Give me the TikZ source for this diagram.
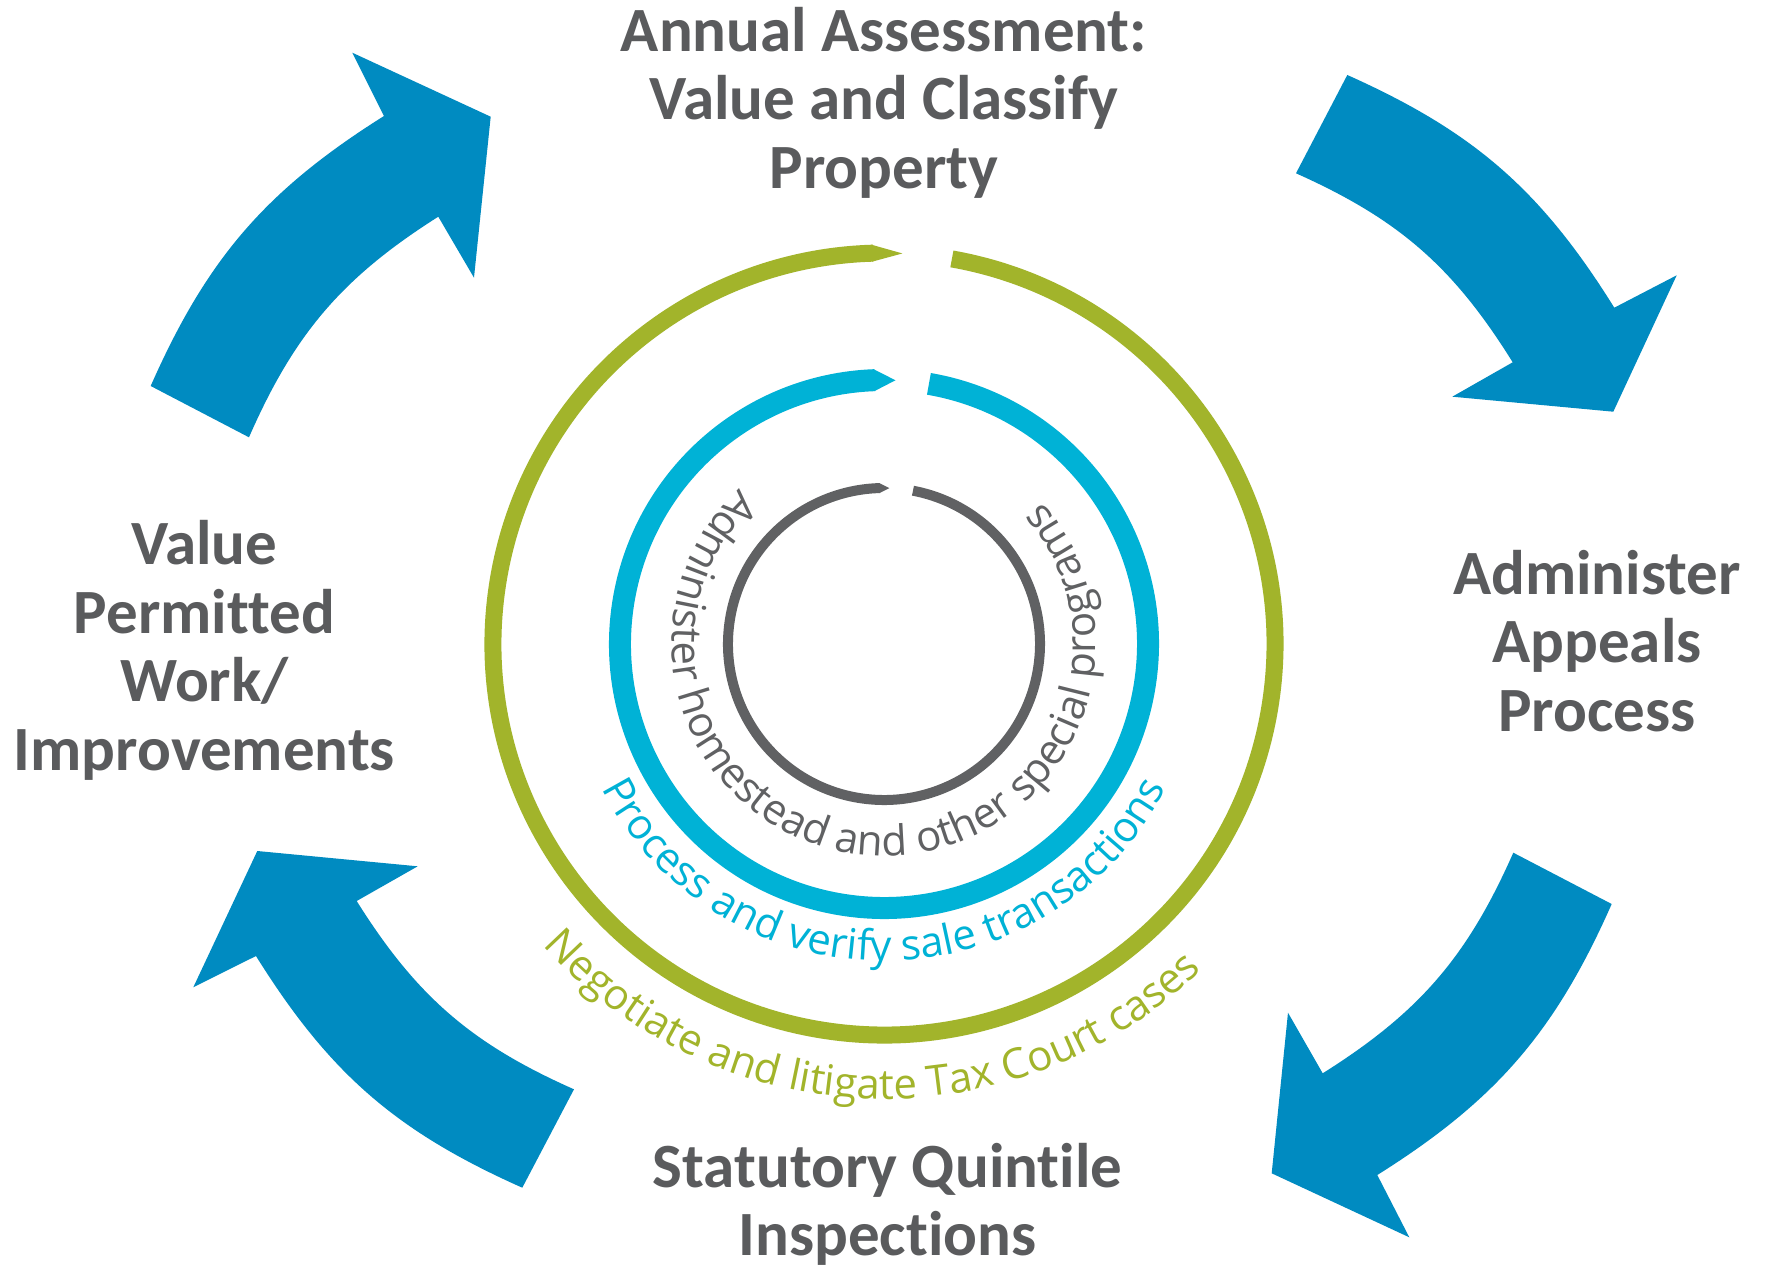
\documentclass[tikz,border=0pt]{standalone}
\usepackage{fontspec}
\usetikzlibrary{decorations.text,calc}
\newfontfamily\labelfont{Carlito}[Ligatures=NoCommon]
\newfontfamily\ringfont{Open Sans}
\definecolor{arrowblue}{HTML}{008BC1}
\definecolor{ringcyan}{HTML}{00B2D6}
\definecolor{ringgreen}{HTML}{A2B42B}
\definecolor{ringgray}{HTML}{606163}
\definecolor{labelgray}{HTML}{5A5B5D}
\newcommand{\ringtextfont}{\ringfont\fontsize{42}{48}\selectfont}
\tikzset{
  cyclearrow/.style={fill=arrowblue, draw=none},
  steplabel/.style={font=\labelfont\bfseries\fontsize{63}{68.5}\selectfont,
    text=labelgray, align=center, anchor=base, inner sep=0pt},
}
\begin{document}
\begin{tikzpicture}[x=1pt,y=1pt]
\useasboundingbox (-884,-623) rectangle (882,644);
\fill[white] (-884,-623) rectangle (882,644);

% ---- four curved cycle arrows (clockwise) ----
\fill[cyclearrow] (-733.3,258) to[bend left=17] (-500,528) -- (-531.7,591.3)
  -- (-393.3,527.3) -- (-410,366.3) -- (-445.7,427.3)
  to[bend right=17] (-635,206.7) -- cycle;
\fill[cyclearrow] (463.3,569) to[bend left=17] (730.3,336.3) -- (792.7,368.7)
  -- (729.3,232.3) -- (568.3,247.3) -- (628.7,281.7)
  to[bend right=17] (412,470.7) -- cycle;
\fill[cyclearrow] (727.7,-260) to[bend left=17] (493.3,-531) -- (525.3,-593.3)
  -- (387.7,-529.3) -- (404,-368.7) -- (438.7,-429.3)
  to[bend right=17] (629.3,-208.7) -- cycle;
\fill[cyclearrow] (-361.7,-543.7) to[bend left=17] (-628,-312) -- (-690.7,-343.3)
  -- (-626.7,-207) -- (-466.3,-222.3) -- (-527.3,-257)
  to[bend right=17] (-310,-445.3) -- cycle;

% ---- concentric rings with a pointed end at the top ----
\draw[ringgreen, line width=17] (80:391) arc[start angle=80, end angle=-268.4, radius=391];
\fill[ringgreen] (91.8:382.5) -- (87.3:391) -- (91.8:399.5) -- cycle;
\draw[ringcyan, line width=22] (80.2:264) arc[start angle=80.2, end angle=-268, radius=264];
\fill[ringcyan] (92.2:253) -- (87.5:264) -- (92.2:275) -- cycle;
\draw[ringgray, line width=10] (79.3:156) arc[start angle=79.3, end angle=-268.5, radius=156];
\fill[ringgray] (91.7:151) -- (88:156) -- (91.7:161) -- cycle;

% ---- texts along the rings ----
\path[decorate, decoration={text along path, text align=center, text color=ringgray,
    text={|\ringtextfont|Administer homestead and other special programs}}]
  (97.4:212) arc[start angle=97.4, end angle=437.4, radius=212];
\path[decorate, decoration={text along path, text align=center, text color=ringcyan,
    text={|\ringtextfont|Process and verify sale transactions}}]
  (150:317) arc[start angle=150, end angle=390, radius=317];
\path[decorate, decoration={text along path, text align=center, text color=ringgreen,
    text={|\ringtextfont|Negotiate and litigate Tax Court cases}}]
  (147.9:455) arc[start angle=147.9, end angle=387.9, radius=455];

% ---- step labels (anchored at the baseline of the last line) ----
\node[steplabel] (assess) at (0,455.7) {Annual Assessment:\\Value and Classify\\Property};
\node[steplabel] (appeals) at (713,-87) {Administer\\Appeals\\Process};
\node[steplabel] (quintile) at (3.5,-611.5) {Statutory Quintile\\Inspections};
\node[steplabel] (permits) at (-679.5,-126) {Value\\Permitted\\Work/\\Improvements};
\end{tikzpicture}
\end{document}
